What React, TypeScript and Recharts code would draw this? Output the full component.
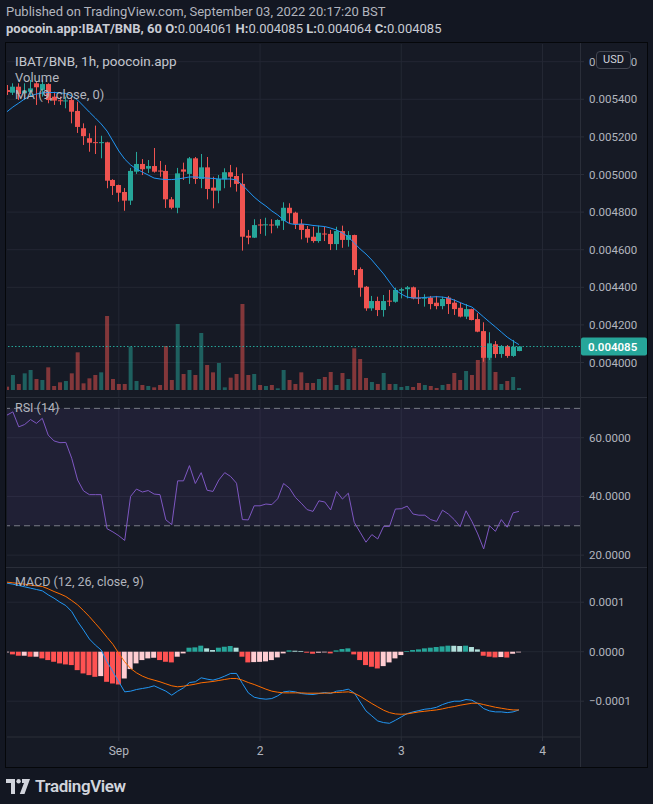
import React from "react";
import {
  ComposedChart,
  Bar,
  Line,
  XAxis,
  YAxis,
  CartesianGrid,
  ReferenceLine,
  ReferenceArea,
} from "recharts";

const FONT = "Roboto, 'Noto Sans', sans-serif";
const UP = "#26a69a";
const DOWN = "#ef5350";
const TEXT = "#b2b5be";
const GRID = "#232733";
const LINE = "#2a2e39";
const BG = "#161a25";

// IBAT/BNB hourly candles, Aug 31 05:00 -> Sep 3 20:00
const opens = [
  0.005449, 0.005435, 0.005467, 0.005432, 0.00544, 0.005485, 0.00545, 0.005481, 0.005414, 0.005395,
  0.00539, 0.005396, 0.005338, 0.005246, 0.005193, 0.005172, 0.005169, 0.005171, 0.004971, 0.004944,
  0.004907, 0.004861, 0.005015, 0.005056, 0.005031, 0.005045, 0.005021, 0.005019, 0.004868, 0.004823,
  0.005027, 0.005003, 0.005086, 0.004976, 0.005038, 0.00493, 0.004914, 0.004974, 0.005012, 0.004992,
  0.00495, 0.004674, 0.004664, 0.004734, 0.004731, 0.004734, 0.004728, 0.004754, 0.004823, 0.004797,
  0.004737, 0.00471, 0.004669, 0.004646, 0.004686, 0.004684, 0.00463, 0.004699, 0.004652, 0.004678,
  0.004497, 0.004403, 0.004288, 0.004327, 0.004279, 0.004329, 0.004323, 0.004382, 0.00439, 0.0044,
  0.004345, 0.004341, 0.004345, 0.004318, 0.0043, 0.004345, 0.004318, 0.004291, 0.004244, 0.004284,
  0.004231, 0.004167, 0.004025, 0.004097, 0.004045, 0.004088, 0.004035, 0.004061,
];
const highs = [
  0.005476, 0.005485, 0.005485, 0.005485, 0.005503, 0.005494, 0.005503, 0.005485, 0.00544, 0.005414,
  0.005414, 0.005414, 0.005387, 0.005272, 0.005219, 0.00526, 0.005206, 0.005174, 0.004975, 0.004946,
  0.004928, 0.005035, 0.00512, 0.005082, 0.005077, 0.005141, 0.005072, 0.005051, 0.00488, 0.005035,
  0.005063, 0.005093, 0.005093, 0.005109, 0.005093, 0.004988, 0.004997, 0.005033, 0.005051, 0.005038,
  0.005006, 0.004705, 0.004762, 0.004763, 0.00477, 0.004762, 0.004762, 0.004852, 0.004847, 0.004802,
  0.004762, 0.004726, 0.004722, 0.004728, 0.004722, 0.004705, 0.004722, 0.004728, 0.004699, 0.00468,
  0.004506, 0.004407, 0.004354, 0.00435, 0.004359, 0.004386, 0.004398, 0.004398, 0.004407, 0.004404,
  0.004386, 0.004363, 0.004354, 0.004354, 0.00435, 0.004354, 0.004336, 0.004318, 0.004311, 0.004286,
  0.004262, 0.004214, 0.004161, 0.004114, 0.004093, 0.004093, 0.00412, 0.004085,
];
const lows = [
  0.005423, 0.005423, 0.005396, 0.005396, 0.005414, 0.00537, 0.005414, 0.005379, 0.00537, 0.00537,
  0.005352, 0.005272, 0.005221, 0.005157, 0.005121, 0.005109, 0.005086, 0.004927, 0.004891, 0.004855,
  0.004807, 0.004838, 0.005003, 0.004997, 0.005008, 0.00501, 0.004988, 0.004822, 0.004815, 0.004794,
  0.004971, 0.00495, 0.00495, 0.004927, 0.004868, 0.00482, 0.004847, 0.004927, 0.004932, 0.004909,
  0.004595, 0.004629, 0.004662, 0.004684, 0.004674, 0.004687, 0.004714, 0.004705, 0.00474, 0.00471,
  0.004655, 0.004637, 0.004637, 0.004637, 0.004646, 0.004598, 0.004598, 0.00461, 0.004616, 0.004465,
  0.00435, 0.004275, 0.004275, 0.004247, 0.004244, 0.0043, 0.004318, 0.004341, 0.004341, 0.004336,
  0.004311, 0.004297, 0.004283, 0.004283, 0.004283, 0.004258, 0.004253, 0.00424, 0.004231, 0.004224,
  0.004161, 0.004004, 0.004013, 0.004025, 0.004025, 0.004025, 0.00403, 0.00406,
];
const closes = [
  0.005439, 0.005467, 0.005428, 0.005446, 0.005458, 0.005464, 0.005481, 0.005396, 0.005393, 0.005391,
  0.005394, 0.005334, 0.005253, 0.005204, 0.005169, 0.005169, 0.005172, 0.004967, 0.004939, 0.004903,
  0.004861, 0.005019, 0.005056, 0.005028, 0.005045, 0.005015, 0.005019, 0.004868, 0.004823, 0.005006,
  0.005015, 0.005086, 0.004976, 0.005038, 0.004923, 0.004914, 0.004976, 0.005012, 0.004988, 0.00495,
  0.004669, 0.004664, 0.004731, 0.004729, 0.004735, 0.004729, 0.004758, 0.004823, 0.004794, 0.004737,
  0.004705, 0.004664, 0.004646, 0.00469, 0.004682, 0.00463, 0.004699, 0.004652, 0.004678, 0.004492,
  0.004398, 0.004288, 0.004327, 0.004279, 0.004327, 0.004325, 0.004386, 0.00439, 0.0044, 0.004341,
  0.004341, 0.004345, 0.004311, 0.0043, 0.004338, 0.004311, 0.004284, 0.004244, 0.004284, 0.004226,
  0.004164, 0.004025, 0.004102, 0.004045, 0.004088, 0.004035, 0.004084, 0.004085,
];
// volume, thousands
const volumes = [
  10, 45, 18, 50, 60, 33, 30, 68, 12, 23, 27, 50, 113, 20, 35, 45, 53, 222, 33, 18,
  18, 130, 27, 15, 12, 8, 15, 132, 30, 198, 48, 60, 45, 171, 75, 53, 81, 8, 37, 48,
  258, 45, 48, 15, 12, 15, 5, 60, 30, 18, 53, 21, 21, 33, 39, 54, 15, 51, 33, 125,
  93, 36, 24, 18, 51, 18, 18, 9, 12, 9, 21, 15, 12, 6, 15, 18, 51, 30, 57, 45,
  90, 100, 100, 54, 18, 27, 39, 6,
];
// MA (9, close)
const ma9 = [
  0.005334, 0.005359, 0.00538, 0.005402, 0.005418, 0.005428, 0.005434, 0.005436, 0.005436, 0.005434,
  0.005431, 0.005418, 0.005396, 0.005364, 0.005332, 0.005301, 0.005269, 0.005231, 0.005178, 0.005125,
  0.005082, 0.005051, 0.005029, 0.005013, 0.004997, 0.004981, 0.004976, 0.004973, 0.004973, 0.004976,
  0.004981, 0.004987, 0.004987, 0.004984, 0.004981, 0.004979, 0.004976, 0.004976, 0.004976, 0.004971,
  0.004944, 0.004912, 0.00488, 0.004854, 0.004832, 0.004806, 0.004785, 0.004758, 0.004739, 0.004734,
  0.004737, 0.004734, 0.004729, 0.004726, 0.004723, 0.004715, 0.004705, 0.004689, 0.004668, 0.004636,
  0.004604, 0.004577, 0.004545, 0.004508, 0.004471, 0.004428, 0.004386, 0.004364, 0.004348, 0.004343,
  0.004343, 0.004346, 0.004348, 0.00435, 0.004348, 0.004343, 0.004332, 0.004319, 0.004306, 0.004295,
  0.004269, 0.004242, 0.004215, 0.004189, 0.004162, 0.004135, 0.004114, 0.004095,
];
// RSI (14)
const rsi14 = [
  67.7, 68.8, 63.7, 64.5, 66.2, 64.9, 66.6, 60.9, 58.9, 58.3,
  58.4, 53, 45.6, 41.9, 40.6, 40.6, 40.6, 29, 27.9, 26.6,
  25, 40, 42.5, 41.5, 42, 40.8, 40.6, 32, 30.4, 45.3,
  45.3, 50.5, 44.4, 48.1, 42.1, 41.7, 45.6, 48.1, 46.8, 44.5,
  32.1, 32, 36.8, 36.8, 37.4, 37.2, 39.2, 44.4, 42.8, 39.7,
  37.7, 35.5, 34.9, 38.5, 38.1, 35.4, 41.7, 39.1, 41.1, 31.2,
  27.8, 24.4, 27, 25.5, 29.8, 29.8, 35.7, 35.8, 36.7, 34,
  33.6, 33.6, 32.1, 31.5, 35.3, 34, 32.1, 29.7, 35.1, 31.5,
  27.2, 22.1, 30, 28.1, 32.1, 29.5, 34.4, 34.9,
];
// MACD (12, 26, close, 9), in units of 1e-6
const macdLine = [
  138.5, 136.5, 133.8, 131.1, 128.4, 125.7, 123, 114.9, 108.1, 100,
  93.2, 81.1, 60.8, 43.9, 25.7, 13.5, 3.4, -20.3, -40.5, -60.8,
  -81.1, -79.7, -76.4, -74.3, -72.3, -68.9, -74.3, -79.7, -87.8, -79.7,
  -73, -62.2, -60.8, -52.7, -55.4, -57.4, -54.1, -49.3, -43.9, -43.9,
  -64.2, -83.1, -91.9, -94.6, -95.9, -94.6, -89.2, -81.1, -79.7, -81.1,
  -84.5, -85.8, -86.5, -84.5, -82.4, -84.5, -79.7, -78.4, -75.7, -83.1,
  -101.4, -119.6, -129.7, -139.9, -143.2, -144.6, -138.5, -131.8, -125, -121.6,
  -118.9, -116.2, -114.9, -112.2, -106.8, -102.7, -100, -100, -96.6, -98,
  -104.7, -114.9, -119.6, -121.6, -121.6, -123, -121.6, -117.6,
];
const signalLine = [
  140.5, 139.2, 137.8, 136.5, 134.5, 133.1, 131.8, 127, 121.6, 116.9,
  111.5, 103.4, 94.6, 83.1, 70.9, 57.4, 43.9, 29.1, 14.9, -3.4,
  -20.3, -33.8, -42.6, -49.3, -54.1, -57.4, -60.8, -64.9, -68.9, -70.9,
  -69.6, -67.6, -65.5, -62.8, -61.5, -60.1, -58.1, -56.1, -54.1, -54.1,
  -57.4, -62.2, -66.2, -70.9, -75.7, -79.7, -81.8, -83.1, -83.1, -83.1,
  -83.1, -83.8, -83.8, -83.8, -83.8, -83.1, -82.4, -81.8, -81.1, -83.8,
  -89.9, -97.3, -104.7, -111.5, -118.2, -123, -125.7, -126.4, -125.7, -123.6,
  -121.6, -120.3, -118.9, -117.6, -115.5, -112.8, -110.8, -108.1, -106.1, -104.1,
  -104.1, -106.8, -109.5, -112.2, -114.2, -116.2, -117.6, -117.6,
];
const macdHist = [
  -1.4, -5.4, -8.1, -8.1, -10.1, -10.1, -13.5, -16.9, -20.3, -23.6,
  -25.7, -27, -37.2, -43.9, -47.3, -50.7, -49.3, -60.8, -64.2, -66.2,
  -54.1, -35.1, -23.6, -16.9, -13.5, -12.2, -16.9, -20.3, -21.6, -10.1,
  -3.4, 8.1, 8.8, 12.2, 6.8, 3.4, 8.1, 10.1, 11.5, 8.1,
  -10.1, -21.6, -21, -20.5, -19.5, -16.9, -11.5, -3.4, 2.7, 2.0,
  1.5, -2, -4.1, -2, -1.4, -3.4, 2.7, 5.4, 6.8, -5.4,
  -16.9, -27, -30.4, -33.8, -29.1, -21.6, -13.5, -6.8, 1.4, 3.4,
  4.7, 6.8, 8.1, 9.5, 10.8, 12.2, 12, 11.5, 12.2, 9.5,
  4.7, -8.1, -10.1, -11.5, -10.8, -11.8, -4.1, -1.4,
];

const timeTicks = [19, 43, 67, 91];
const timeLabels = ["Sep", "2", "3", "4"];
const priceTicks = [0.004, 0.0042, 0.0044, 0.0046, 0.0048, 0.005, 0.0052, 0.0054, 0.0056];
const rsiTicks = [20, 40, 60];
const macdTicks = [-100, 0, 100];

const X_DOMAIN = [0, 97.37];
const PRICE_DOMAIN = [0.0038165, 0.0056941];
const VOL_DOMAIN = [-21, 1038];
const RSI_DOMAIN = [15.95, 73.19];
const MACD_DOMAIN = [-172.3, 167.1];

const lastClose = closes[closes.length - 1];

const rows = opens.map((open, i) => {
  const h = macdHist[i];
  const prev = i > 0 ? macdHist[i - 1] : h;
  const histColor = h >= 0 ? (h >= prev ? "#26a69a" : "#b2dfdb") : h < prev ? "#ff5252" : "#ffcdd2";
  return {
    i,
    open,
    high: highs[i],
    low: lows[i],
    close: closes[i],
    range: [lows[i], highs[i]],
    volume: volumes[i],
    ma: ma9[i],
    rsi: rsi14[i],
    macd: macdLine[i],
    signal: signalLine[i],
    hist: h,
    histColor,
  };
});

const norm = (y: number, height: number) =>
  height < 0 ? { top: y + height, h: -height } : { top: y, h: height };

const Candle = (props: any) => {
  const { x, y, width, height, payload } = props;
  if (!payload || x == null) return null;
  const { top, h } = norm(y, height);
  const { open, close, high, low } = payload;
  const color = close >= open ? UP : DOWN;
  const k = h / (high - low);
  const yO = top + (high - open) * k;
  const yC = top + (high - close) * k;
  const cx = Math.round(x + width / 2) + 0.5;
  return (
    <g>
      <line x1={cx} x2={cx} y1={top} y2={top + h} stroke={color} strokeWidth={1} />
      <rect
        x={cx - 2.5}
        y={Math.min(yO, yC)}
        width={5}
        height={Math.max(1, Math.abs(yO - yC))}
        fill={color}
      />
    </g>
  );
};

const VolumeBar = (props: any) => {
  const { x, y, width, height, payload } = props;
  if (!payload || x == null) return null;
  const { top, h } = norm(y, height);
  const color = payload.close >= payload.open ? UP : DOWN;
  return <rect x={x} y={top} width={width} height={h} fill={color} fillOpacity={0.5} />;
};

const HistBar = (props: any) => {
  const { x, y, width, height, payload } = props;
  if (!payload || x == null) return null;
  const { top, h } = norm(y, height);
  return <rect x={x} y={top} width={width} height={Math.max(h, 0.5)} fill={payload.histColor} />;
};

const PriceTag = (props: any) => {
  const vb = props.viewBox || {};
  const x = (vb.x || 0) + (vb.width || 0);
  const y = vb.y || 0;
  return (
    <g>
      <rect x={x + 1} y={y - 9} width={66} height={18} rx={2} fill={UP} />
      <text x={x + 8} y={y} dy="0.36em" fill="#ffffff" fontSize={11.5} fontWeight={600} fontFamily={FONT}>
        {lastClose.toFixed(6)}
      </text>
    </g>
  );
};

const axisTick = { fill: TEXT, fontSize: 11.5, fontFamily: FONT };

const Logo = () => (
  <svg width={24} height={15} viewBox="0 0 24 15">
    <path d="M0 0 H9 V15 H5 V4 H0 Z" fill="#d1d4dc" />
    <circle cx={12.6} cy={2.2} r={2.2} fill="#d1d4dc" />
    <path d="M16 0 H24 L18.5 15 H13.8 L18 4 H16 Z" fill="#d1d4dc" />
  </svg>
);

const label = (top: number, text: string, size = 13, color = TEXT) => (
  <div
    style={{
      position: "absolute",
      left: 15,
      top,
      fontSize: size,
      lineHeight: "16px",
      color,
      fontFamily: FONT,
      whiteSpace: "nowrap",
      pointerEvents: "none",
    }}
  >
    {text}
  </div>
);

export default function App() {
  return (
    <div
      style={{
        position: "fixed",
        left: 0,
        top: 0,
        width: 653,
        height: 804,
        background: "#131722",
        overflow: "hidden",
        fontFamily: FONT,
      }}
    >
      <div style={{ position: "absolute", left: 6, top: 4, fontSize: 13, lineHeight: "16px", color: TEXT, whiteSpace: "nowrap" }}>
        Published on TradingView.com, September 03, 2022 20:17:20 BST
      </div>
      <div style={{ position: "absolute", left: 6, top: 21, fontSize: 13, lineHeight: "16px", color: "#c9ccd4", whiteSpace: "nowrap" }}>
        <b>poocoin.app:IBAT/BNB, 60</b> <b>O:</b>0.004061 <b>H:</b>0.004085 <b>L:</b>0.004064{" "}
        <b>C:</b>0.004085
      </div>

      <div
        style={{
          position: "absolute",
          left: 5,
          top: 42,
          width: 641,
          height: 724,
          border: "1px solid #05070a",
          background: BG,
        }}
      />

      {/* price pane */}
      <div style={{ position: "absolute", left: 6, top: 43 }}>
        <ComposedChart width={641} height={355} data={rows} margin={{ top: 1, right: 0, bottom: 1, left: 1 }}>
          <CartesianGrid
            xAxisId="x"
            yAxisId="price"
            stroke={GRID}
            verticalValues={timeTicks}
            horizontalValues={priceTicks}
          />
          <XAxis xAxisId="x" type="number" dataKey="i" domain={X_DOMAIN} ticks={timeTicks} allowDataOverflow hide />
          <XAxis xAxisId="xv" type="number" dataKey="i" domain={X_DOMAIN} allowDataOverflow hide />
          <YAxis
            yAxisId="price"
            orientation="right"
            width={67}
            domain={PRICE_DOMAIN}
            ticks={priceTicks}
            interval={0}
            allowDataOverflow
            axisLine={false}
            tickLine={{ stroke: LINE }}
            tickSize={4}
            tickMargin={5}
            tick={axisTick}
            tickFormatter={(v: number) => v.toFixed(6)}
          />
          <YAxis yAxisId="vol" domain={VOL_DOMAIN} allowDataOverflow hide />
          <Bar xAxisId="xv" yAxisId="vol" dataKey="volume" barSize={4} shape={VolumeBar} isAnimationActive={false} />
          <Bar xAxisId="x" yAxisId="price" dataKey="range" barSize={5} shape={Candle} isAnimationActive={false} />
          <Line
            xAxisId="x"
            yAxisId="price"
            dataKey="ma"
            stroke="#2196f3"
            strokeWidth={1}
            dot={false}
            activeDot={false}
            isAnimationActive={false}
          />
          <ReferenceLine
            xAxisId="x"
            yAxisId="price"
            y={lastClose}
            stroke={UP}
            strokeDasharray="1.5 2"
            label={<PriceTag />}
          />
        </ComposedChart>
      </div>

      {/* RSI pane */}
      <div style={{ position: "absolute", left: 6, top: 398 }}>
        <ComposedChart width={641} height={170} data={rows} margin={{ top: 1, right: 0, bottom: 1, left: 1 }}>
          <CartesianGrid stroke={GRID} verticalValues={timeTicks} horizontalValues={rsiTicks} />
          <XAxis type="number" dataKey="i" domain={X_DOMAIN} ticks={timeTicks} allowDataOverflow hide />
          <YAxis
            orientation="right"
            width={67}
            domain={RSI_DOMAIN}
            ticks={rsiTicks}
            interval={0}
            allowDataOverflow
            axisLine={false}
            tickLine={{ stroke: LINE }}
            tickSize={4}
            tickMargin={5}
            tick={axisTick}
            tickFormatter={(v: number) => v.toFixed(4)}
          />
          <ReferenceArea y1={30} y2={70} fill="#7e57c2" fillOpacity={0.1} stroke="none" />
          <ReferenceLine y={70} stroke="#787b86" strokeDasharray="6 4" />
          <ReferenceLine y={30} stroke="#787b86" strokeDasharray="6 4" />
          <Line
            dataKey="rsi"
            stroke="#7e57c2"
            strokeWidth={1}
            dot={false}
            activeDot={false}
            isAnimationActive={false}
          />
        </ComposedChart>
      </div>

      {/* MACD pane + time axis */}
      <div style={{ position: "absolute", left: 6, top: 568 }}>
        <ComposedChart width={641} height={199} data={rows} margin={{ top: 1, right: 0, bottom: 1, left: 1 }}>
          <CartesianGrid stroke={GRID} verticalValues={timeTicks} horizontalValues={macdTicks} />
          <XAxis
            type="number"
            dataKey="i"
            domain={X_DOMAIN}
            ticks={timeTicks}
            interval={0}
            allowDataOverflow
            height={29}
            axisLine={{ stroke: LINE }}
            tickLine={{ stroke: LINE }}
            tickSize={4}
            tickMargin={5}
            tick={{ fill: TEXT, fontSize: 12, fontFamily: FONT }}
            tickFormatter={(v: number) => timeLabels[timeTicks.indexOf(v)] ?? ""}
          />
          <YAxis
            orientation="right"
            width={67}
            domain={MACD_DOMAIN}
            ticks={macdTicks}
            interval={0}
            allowDataOverflow
            axisLine={false}
            tickLine={{ stroke: LINE }}
            tickSize={4}
            tickMargin={5}
            tick={axisTick}
            tickFormatter={(v: number) => (v / 1e6).toFixed(4).replace("-", "\u2212")}
          />
          <Bar dataKey="hist" barSize={5} shape={HistBar} isAnimationActive={false} />
          <Line
            dataKey="macd"
            stroke="#2196f3"
            strokeWidth={1}
            dot={false}
            activeDot={false}
            isAnimationActive={false}
          />
          <Line
            dataKey="signal"
            stroke="#ff6d00"
            strokeWidth={1}
            dot={false}
            activeDot={false}
            isAnimationActive={false}
          />
        </ComposedChart>
      </div>

      {/* pane separators and price-scale border */}
      <div style={{ position: "absolute", left: 6, top: 397, width: 641, height: 1, background: LINE }} />
      <div style={{ position: "absolute", left: 6, top: 567, width: 641, height: 1, background: LINE }} />
      <div style={{ position: "absolute", left: 580, top: 43, width: 1, height: 724, background: LINE }} />

      {label(53, "IBAT/BNB, 1h, poocoin.app", 13.5, "#c3c6ce")}
      {label(70, "Volume")}
      {label(87, "MA (9, close, 0)")}
      {label(400, "RSI (14)", 12.5)}
      {label(574, "MACD (12, 26, close, 9)", 12.5)}

      <div
        style={{
          position: "absolute",
          left: 596,
          top: 51,
          width: 33,
          height: 16,
          border: "1px solid #434651",
          borderRadius: 4,
          background: BG,
          color: "#d1d4dc",
          fontSize: 11,
          lineHeight: "16px",
          textAlign: "center",
        }}
      >
        USD
      </div>

      <div style={{ position: "absolute", left: 6, top: 778, display: "flex", alignItems: "center", gap: 5 }}>
        <Logo />
        <span style={{ color: "#d1d4dc", fontSize: 17, fontWeight: 600, letterSpacing: -0.4, lineHeight: "16px" }}>
          TradingView
        </span>
      </div>
    </div>
  );
}
